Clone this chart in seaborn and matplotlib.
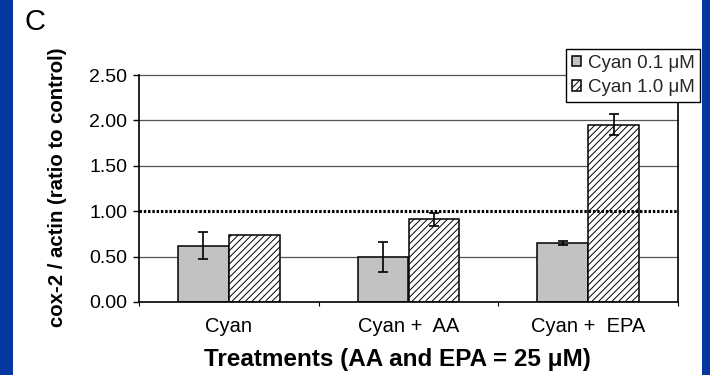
import matplotlib
matplotlib.use("Agg")
import matplotlib.pyplot as plt
import numpy as np
import pandas as pd
import seaborn as sns
from matplotlib.patches import Rectangle

# Treatment groups and cyanidin doses
treatments = ["Cyan", "Cyan +  AA", "Cyan +  EPA"]
doses = ["Cyan 0.1 \u03bcM", "Cyan 1.0 \u03bcM"]

# cox-2 / actin ratios (relative to control) and their error bars
ratio_low = [0.62, 0.50, 0.65]
ratio_high = [0.74, 0.91, 1.95]
err_low = [0.15, 0.165, 0.025]
err_high = [0.0, 0.075, 0.115]

y_ticks = [0.0, 0.5, 1.0, 1.5, 2.0, 2.5]
control_level = 1.0

sns.set_theme(style="white")
plt.rcParams["font.family"] = ["Liberation Sans", "DejaVu Sans"]
plt.rcParams["hatch.linewidth"] = 0.7

fig = plt.figure(figsize=(7.1, 3.75), dpi=100)
fig.patch.set_facecolor("white")

# slide background stripes at the edges
slide_blue = "#06369f"
fig.patches.append(Rectangle((0, 0), 13 / 710, 1, transform=fig.transFigure,
                             facecolor=slide_blue, edgecolor="none", zorder=0))
fig.patches.append(Rectangle((702 / 710, 0), 8 / 710, 1, transform=fig.transFigure,
                             facecolor=slide_blue, edgecolor="none", zorder=0))

ax = fig.add_axes([139 / 710, 73 / 375, (678 - 139) / 710, (302 - 75) / 375])

df = pd.DataFrame({
    "treatment": treatments * 2,
    "dose": [doses[0]] * 3 + [doses[1]] * 3,
    "ratio": ratio_low + ratio_high,
})

sns.barplot(data=df, x="treatment", y="ratio", hue="dose",
            order=treatments, hue_order=doses,
            palette=["#c2c2c2", "white"], saturation=1,
            width=0.567, edgecolor="black", linewidth=1.1,
            errorbar=None, legend=False, ax=ax)

# hatch the higher-dose bars
for bar in ax.containers[1]:
    bar.set_hatch("/////")

# error bars
for cont, errs in zip(ax.containers, [err_low, err_high]):
    for bar, e in zip(cont, errs):
        if e > 0:
            ax.errorbar(bar.get_x() + bar.get_width() / 2, bar.get_height(),
                        yerr=e, fmt="none", ecolor="black", elinewidth=1.2,
                        capsize=3.6, capthick=1.2, zorder=4)

# horizontal grid lines (control level drawn as dotted reference)
for t in y_ticks:
    if t not in (0.0, control_level):
        ax.axhline(t, color="#555555", lw=0.9, zorder=0.5, clip_on=False)
ax.axhline(control_level, color="black", lw=2.2, ls=(0, (0.8, 0.6)), zorder=5)

ax.set_ylim(0, 2.5)
ax.set_xlim(-0.5, 2.5)

for side in ["left", "bottom", "right"]:
    ax.spines[side].set_visible(True)
    ax.spines[side].set_color("black")
    ax.spines[side].set_linewidth(1.2)
ax.spines["top"].set_visible(False)

ax.set_yticks(y_ticks, labels=[f"{t:.2f}" for t in y_ticks])
ax.tick_params(axis="y", left=True, direction="out", length=4.3, width=1,
               color="black", pad=4.3, labelsize=14, labelcolor="black")
ax.set_xticks([-0.5, 0.5, 1.5, 2.5], minor=True)
ax.tick_params(axis="x", which="minor", bottom=True, direction="out",
               length=3, width=0.8, color="black")
ax.tick_params(axis="x", which="major", bottom=False, length=0, pad=10.5,
               labelsize=14.5, labelcolor="black")

ax.set_xlabel("Treatments (AA and EPA = 25 \u03bcM)", fontsize=17.5,
              fontweight="bold", color="black")
ax.xaxis.label.set_va("center")
ax.xaxis.set_label_coords(0.48, -0.2555)
ax.set_ylabel("cox-2 / actin (ratio to control)", fontsize=14.7,
              fontweight="bold", color="black")
ax.yaxis.label.set_va("center")
ax.yaxis.set_label_coords(-0.152, 0.504)

leg = ax.legend(handles=ax.containers, labels=doses, loc="upper right",
                bbox_to_anchor=(700 / 710, 1 - 49 / 375),
                bbox_transform=fig.transFigure, frameon=True, fancybox=False,
                framealpha=1, fontsize=13.5, handlelength=0.5,
                handleheight=0.5, handletextpad=0.35, borderpad=0.3,
                labelspacing=0.4, borderaxespad=0)
leg.get_frame().set_edgecolor("black")
leg.get_frame().set_linewidth(1.0)
leg.set_zorder(6)

fig.text(25 / 710, 1 - 30 / 375, "C", fontsize=21, ha="left",
         va="baseline", color="black")

fig.savefig("out.png", dpi=100, facecolor="white")
